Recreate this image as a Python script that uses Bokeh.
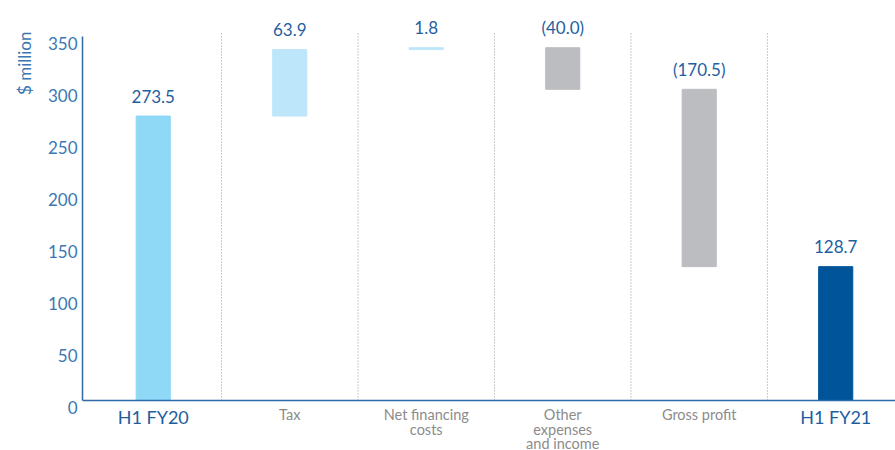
import math
from bokeh.plotting import figure
from bokeh.models import ColumnDataSource, Range1d, FixedTicker, Span, LinearAxis, Title
from bokeh.core.properties import value
from bokeh.embed import file_html
from bokeh.resources import INLINE

# ---- data ----
categories = ["H1 FY20", "Tax", "Net financing\ncosts", "Other\nexpenses\nand income", "Gross profit", "H1 FY21"]
changes = [273.5, 63.9, 1.8, -40.0, -170.5, 128.7]
value_labels = ["273.5", "63.9", "1.8", "(40.0)", "(170.5)", "128.7"]
kinds = ["total", "up", "up", "down", "down", "final"]
y_ticks = [0, 50, 100, 150, 200, 250, 300, 350]

FONT = "Lato"
kind_colors = {"total": "#8fd8f6", "up": "#bde6fa", "down": "#bcbdc0", "final": "#00549a"}

# waterfall geometry from data
bottoms, tops = [], []
running = 0.0
for k, c in zip(kinds, changes):
    if k in ("total", "final"):
        bottoms.append(0.0)
        tops.append(c)
        running = c
    else:
        new = running + c
        bottoms.append(min(running, new))
        tops.append(max(running, new))
        running = new

xs = [i + 0.5 for i in range(len(categories))]
src = ColumnDataSource(dict(
    x=xs, bottom=bottoms, top=tops,
    color=[kind_colors[k] for k in kinds],
    label=value_labels,
))

Y0, Y1 = -48.08, 379.8
LBL_SHIFT = 6.73
p = figure(width=895, height=450, output_backend="svg", toolbar_location=None,
           x_axis_location=None, y_axis_location=None,
           min_border_left=82, min_border_right=0, min_border_top=5, min_border_bottom=0,
           x_range=Range1d(-0.0183, 5.938), y_range=Range1d(Y0, Y1))
p.extra_y_ranges = {"lbl": Range1d(Y0 + LBL_SHIFT, Y1 + LBL_SHIFT)}
p.outline_line_color = None
p.xgrid.grid_line_color = None
p.ygrid.grid_line_color = None
p.background_fill_color = "white"
p.border_fill_color = "white"

# separators
for s in range(1, len(categories)):
    p.segment(x0=[s], y0=[0], x1=[s], y1=[353], line_color="#9a9a9a",
              line_width=1, line_dash="1 2")

p.vbar(x="x", bottom="bottom", top="top", width=0.25, color="color", source=src)

# value labels
p.text(x="x", y="top", text="label", source=src, text_align="center",
       text_baseline="alphabetic", y_offset=-20, text_color="#1f5f9f",
       text_font=value(FONT), text_font_size="17px")

# baseline axis
p.add_layout(Span(location=0, dimension="width", line_color="#2e6aa8", line_width=1.5))

# category labels
cat_colors = ["#1d5e9e" if k in ("total", "final") else "#8c8c8c" for k in kinds]
cat_sizes = ["18px" if k in ("total", "final") else "14.5px" for k in kinds]
cat_src = ColumnDataSource(dict(x=xs, y=[0] * len(xs), text=categories,
                                color=cat_colors, size=cat_sizes))
p.text(x="x", y="y", text="text", source=cat_src, text_align="center",
       text_baseline="top", y_offset=6, text_color="color", text_font_size="size",
       text_font=value(FONT), text_line_height=0.85)

# y axis line (no labels)
ax_line = LinearAxis(ticker=FixedTicker(ticks=[]), bounds=(0, 350),
                     axis_line_color="#2e6aa8", axis_line_width=1.5,
                     major_tick_out=0, major_tick_in=0, minor_tick_out=0, minor_tick_in=0,
                     major_label_standoff=0)
p.add_layout(ax_line, "left")

# y tick labels (drawn slightly below their ticks, as in the reference)
ax_lbl = LinearAxis(y_range_name="lbl", ticker=FixedTicker(ticks=y_ticks),
                    axis_line_color=None, major_tick_out=0, major_tick_in=0,
                    minor_tick_out=0, minor_tick_in=0, major_label_standoff=5,
                    major_label_text_color="#3b77b3", major_label_text_font=FONT,
                    major_label_text_font_size="17px")
p.add_layout(ax_lbl, "left")

# "$ million" title near the top of the axis
p.add_layout(Title(text="$ million", align="right", offset=26, standoff=19,
                   text_color="#3b77b3", text_font=FONT, text_font_size="17px",
                   text_font_style="normal"), "left")

open("out.html", "w").write(file_html(p, INLINE))
